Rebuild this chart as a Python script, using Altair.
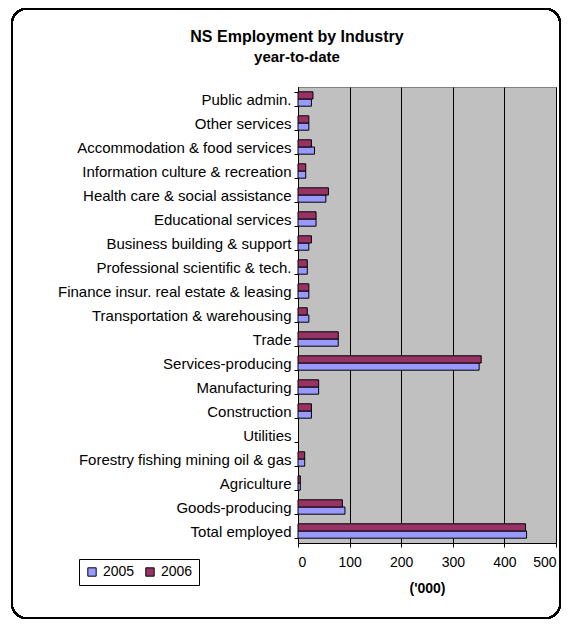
import altair as alt
import pandas as pd

industries = [
    "Public admin.", "Other services", "Accommodation & food services",
    "Information culture & recreation", "Health care & social assistance",
    "Educational services", "Business building & support",
    "Professional scientific & tech.", "Finance insur. real estate & leasing",
    "Transportation & warehousing", "Trade", "Services-producing",
    "Manufacturing", "Construction", "Utilities",
    "Forestry fishing mining oil & gas", "Agriculture", "Goods-producing",
    "Total employed",
]
v2005 = [26, 21, 32, 15, 54, 35, 21, 18, 21, 21, 78, 351, 40, 26, None, 13, 4.5, 91, 443]
v2006 = [29, 21, 26, 15, 59, 35, 26, 18, 21, 18, 78, 355, 40, 26, None, 13, 4.5, 86, 441]
years = ["2005", "2006"]
colors = ["#9999FF", "#993366"]

rows = []
for i, ind in enumerate(industries):
    rows.append({"Industry": ind, "Year": "2005", "Value": v2005[i]})
    rows.append({"Industry": ind, "Year": "2006", "Value": v2006[i]})
df = pd.DataFrame(rows)

FONT = "Liberation Sans"

bars = alt.Chart(df).mark_bar(stroke="black", strokeWidth=1).encode(
    y=alt.Y("Industry:N", sort=industries,
            scale=alt.Scale(paddingInner=0.4, paddingOuter=0.2),
            axis=alt.Axis(title=None, labelFontSize=15, labelFont=FONT,
                          labelColor="black", domainColor="black",
                          tickColor="black", tickSize=4, tickBand="extent",
                          labelPadding=3, labelLimit=400)),
    yOffset=alt.YOffset("Year:N", sort=["2006", "2005"]),
    x=alt.X("Value:Q", scale=alt.Scale(domain=[0, 500], nice=False),
            axis=alt.Axis(title="('000)", titleFontSize=14, titleFont=FONT,
                          titleFontWeight="bold", titleColor="black",
                          titlePadding=12,
                          values=[0, 100, 200, 300, 400, 500], format="d",
                          labelFontSize=14, labelFont=FONT, labelColor="black",
                          domainColor="black", tickColor="black", tickSize=4,
                          labelPadding=8, grid=True, gridColor="black",
                          gridOpacity=1, gridWidth=1)),
    color=alt.Color("Year:N", sort=years,
                    scale=alt.Scale(domain=years, range=colors),
                    legend=alt.Legend(title=None, orient="none", legendX=-219,
                                      legendY=472, direction="horizontal",
                                      symbolType="square", symbolSize=70,
                                      symbolStrokeColor="black",
                                      symbolStrokeWidth=1,
                                      labelFontSize=14, labelFont=FONT,
                                      labelColor="black", strokeColor="black",
                                      padding=6, columnPadding=8,
                                      symbolOpacity=1, fillColor="white")),
)

frame = alt.Chart(df).mark_rect(fill=None, stroke="black", strokeWidth=1.5,
                                cornerRadius=14).encode(
    x=alt.value(-286), x2=alt.value(262), y=alt.value(-78), y2=alt.value(531)
)

chart = alt.layer(frame, bars).properties(
    width=258, height=456,
    padding={"left": 290, "top": 79, "right": 6, "bottom": 76},
    autosize=alt.AutoSizeParams(type="none"),
    title=alt.TitleParams(
        text="NS Employment by Industry", subtitle="year-to-date",
        font=FONT, fontSize=16, fontWeight="bold", color="black",
        subtitleFont=FONT, subtitleFontSize=15, subtitleFontWeight="bold",
        subtitleColor="black", subtitlePadding=5,
        anchor="middle", dx=-130, offset=-57,
    ),
).configure(
    background="white",
    view=alt.ViewConfig(fill="#C0C0C0", stroke="#808080"),
)

chart.save("out.html", embed_options={"renderer": "svg", "actions": False})
